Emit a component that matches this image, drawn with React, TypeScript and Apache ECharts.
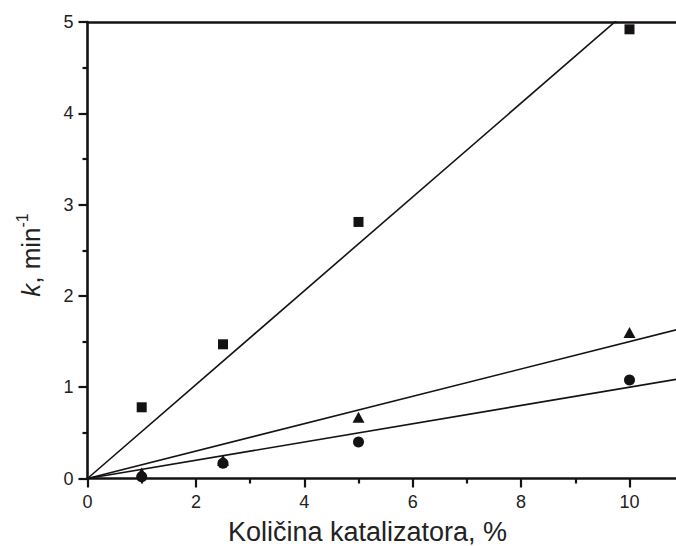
import React, { useEffect, useRef } from "react";
import * as echarts from "echarts";

const xValues = [1, 2.5, 5, 10];
const squareK = [0.78, 1.47, 2.81, 4.92];
const triangleK = [0.06, 0.2, 0.67, 1.6];
const circleK = [0.02, 0.166, 0.4, 1.08];
const fitSlopes = [0.514, 0.15, 0.1];
const fitX = [0, 12];
const xTicks = [0, 2, 4, 6, 8, 10];
const yTicks = [0, 1, 2, 3, 4, 5];

const INK = "#151213";
const FONT = "Liberation Sans, Arial, sans-serif";

export default function App() {
  const ref = useRef<HTMLDivElement>(null);
  useEffect(() => {
    if (!ref.current) return;
    const chart = echarts.init(ref.current, null, { renderer: "svg" });
    const pts = (ys: number[]) => xValues.map((x, i) => [x, ys[i]]);
    const fitLine = (s: number) => fitX.map((x) => [x, x * s]);
    const option: any = {
      animation: false,
      backgroundColor: "#fff",
      grid: {
        left: 87.5,
        top: 22,
        width: 12 * 54.2,
        height: 456.5,
        containLabel: false,
        outerBoundsMode: "none",
      },
      xAxis: [
        {
          type: "value",
          min: 0,
          max: 12,
          interval: 2,
          position: "bottom",
          axisLine: { show: true, onZero: false, lineStyle: { color: INK, width: 2.6 } },
          axisTick: { show: true, inside: false, length: 9, lineStyle: { color: INK, width: 2.2 } },
          minorTick: { show: true, splitNumber: 2, length: 5, lineStyle: { color: INK, width: 2.2 } },
          axisLabel: {
            margin: 14,
            fontSize: 18,
            color: "#222",
            fontFamily: FONT,
            formatter: (v: number) => (xTicks.includes(v) ? String(v) : ""),
          },
          splitLine: { show: false },
        },
        {
          type: "value",
          min: 0,
          max: 12,
          position: "top",
          axisLine: { show: true, onZero: false, lineStyle: { color: INK, width: 2.6 } },
          axisTick: { show: false },
          axisLabel: { show: false },
          splitLine: { show: false },
        },
      ],
      yAxis: {
        type: "value",
        min: 0,
        max: 5,
        interval: 1,
        axisLine: { show: true, onZero: false, lineStyle: { color: INK, width: 2.6 } },
        axisTick: { show: true, inside: false, length: 9, lineStyle: { color: INK, width: 2.2 } },
        minorTick: { show: true, splitNumber: 2, length: 5, lineStyle: { color: INK, width: 2.2 } },
        axisLabel: {
          margin: 14,
          fontSize: 18,
          color: "#222",
          fontFamily: FONT,
          formatter: (v: number) => (yTicks.includes(v) ? String(v) : ""),
        },
        splitLine: { show: false },
      },
      graphic: [
        {
          type: "text",
          x: 367.5,
          y: 532,
          style: {
            text: "Količina katalizatora, %",
            fontSize: 27,
            fontFamily: FONT,
            fill: "#222",
            align: "center",
            verticalAlign: "middle",
          },
        },
        {
          type: "text",
          x: 29,
          y: 255,
          rotation: Math.PI / 2,
          style: {
            text: "{k|k}{m|, min}{s|-1}",
            align: "center",
            verticalAlign: "middle",
            fill: "#222",
            rich: {
              k: { fontSize: 26, fontStyle: "italic", fontFamily: FONT, fill: "#222", lineHeight: 30, verticalAlign: "bottom" },
              m: { fontSize: 26, fontFamily: FONT, fill: "#222", lineHeight: 30, verticalAlign: "bottom" },
              s: { fontSize: 16, fontFamily: FONT, fill: "#222", lineHeight: 16, verticalAlign: "top" },
            },
          },
        },
      ],
      series: [
        ...fitSlopes.map((s) => ({
          type: "line",
          data: fitLine(s),
          symbol: "none",
          clip: true,
          lineStyle: { color: INK, width: 1.6 },
          z: 2,
        })),
        {
          type: "scatter",
          data: pts(squareK),
          symbol: "rect",
          symbolSize: 10,
          itemStyle: { color: INK, opacity: 1 },
          z: 3,
        },
        {
          type: "scatter",
          data: pts(triangleK),
          symbol: "triangle",
          symbolSize: [12, 11],
          itemStyle: { color: INK, opacity: 1 },
          z: 3,
        },
        {
          type: "scatter",
          data: pts(circleK),
          symbol: "circle",
          symbolSize: 11,
          itemStyle: { color: INK, opacity: 1 },
          z: 3,
        },
      ],
    };
    chart.setOption(option);
    return () => chart.dispose();
  }, []);
  return (
    <div
      ref={ref}
      style={{ position: "absolute", left: 0, top: 0, width: 676, height: 546, overflow: "hidden" }}
    />
  );
}
